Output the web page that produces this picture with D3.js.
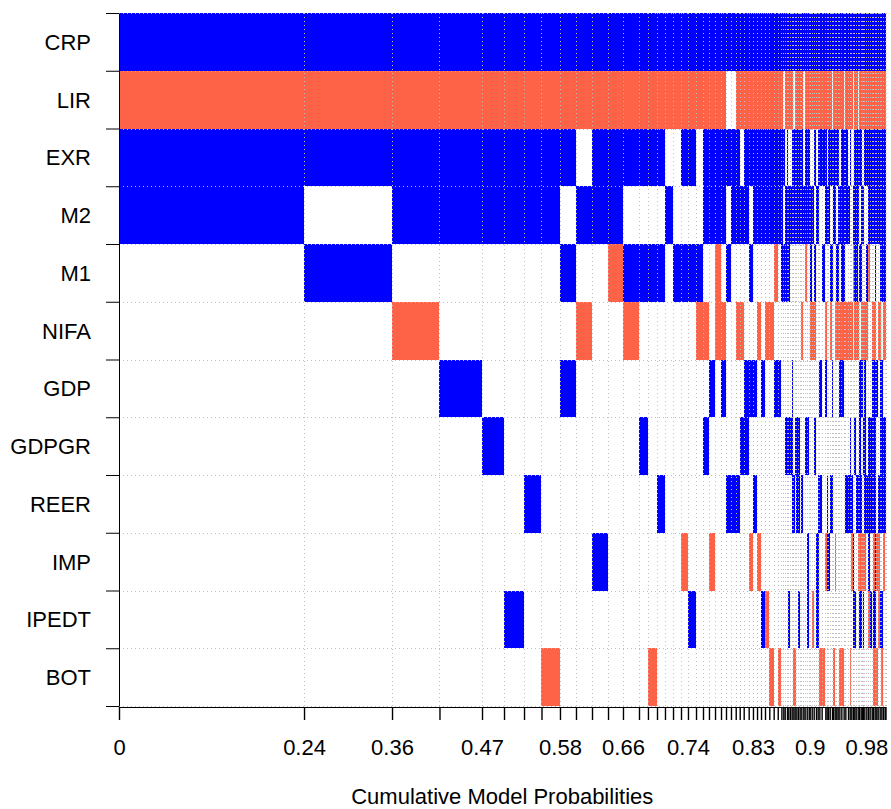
<!DOCTYPE html>
<html><head><meta charset="utf-8">
<script src="https://cdn.jsdelivr.net/npm/d3@7"></script>
<style>
body{margin:0;background:#fff}
text{font-family:"Liberation Sans",Arial,Helvetica,sans-serif}
</style>
</head><body>
<svg id="chart" width="891" height="809"></svg>
<script>
// Variables (rows), top to bottom
const variables = ["CRP","LIR","EXR","M2","M1","NIFA","GDP","GDPGR","REER","IMP","IPEDT","BOT"];

// Cumulative posterior model probability at the right edge of each model column
const cumProb = [
 0.2414,0.3562,0.4181,0.4736,0.5023,0.5284,0.5512,0.5753,0.5962,0.6171,
 0.6380,0.6575,0.6784,0.6901,0.7019,0.7123,0.7228,0.7332,0.7423,0.7528,
 0.7619,0.7697,0.7776,0.7854,0.7919,0.7984,0.8046,0.8098,0.8150,0.8215,
 0.8271,0.8324,0.8376,0.8428,0.8484,0.8541,0.8594,0.8642,0.8667,0.8685,
 0.8715,0.8732,0.8754,0.8776,0.8798,0.8815,0.8837,0.8858,0.8880,0.8902,
 0.8928,0.8945,0.8972,0.8998,0.9011,0.9037,0.9063,0.9093,0.9115,0.9137,
 0.9167,0.9215,0.9232,0.9250,0.9272,0.9302,0.9315,0.9337,0.9358,0.9376,
 0.9398,0.9424,0.9454,0.9476,0.9511,0.9533,0.9554,0.9576,0.9593,0.9611,
 0.9637,0.9654,0.9676,0.9693,0.9706,0.9724,0.9750,0.9772,0.9793,0.9820,
 0.9837,0.9859,0.9880,0.9898,0.9924,0.9946,0.9967,0.9989,1.0000
];

// Inclusion pattern per model: one char per variable (row order above)
// '+' positive coefficient, '-' negative coefficient, '.' not included
const models = [
 "+-++........","+-+.+.......","+-++.-......","+-++..+.....","+-++...+....",
 "+-++......+.","+-++....+...","+-++.......-","+-+.+.+.....","+-.+.-......",
 "+-++.....+..","+-++-.......","+-+.+-......","+-+.+..+....","+-+.+......-",
 "+-+.+...+...","+-.+........","+-..+.......","+-+.+....-..","+-+.+.....+.",
 "+-..+-......","+-++.-.+....","+-++..+..-..","+-++--......","+-++.-+.....",
 "+.+.+...+...","+.++....+...","+-++.-..+...","+-.+.-.+....","+-++..++....",
 "+-+.+.+..-..","+-++..+.+...","+-++.-...-..","+-++..+...+.","+-++.-....-.",
 "+-++.-.....-","+-++-.+.....","+-++..+....-","+-+++.......","+.+.+.......",
 "+-.++..+....","+-+++..+....","+-.++..+..+.","+-.+...+....","+-++..+++...",
 "+.++....+..-","+-++...+...-","+-++...++...","+-++...++.+.","+-++........",
 "+-++.-..+...","+..+........","+-++-..+....","+-++...+.++.","+-++........",
 "+-.++-......","+-.+.-....-.","+-+.+-.+....","+-.+.....++.","+-++....+++.",
 "+-+...+.+..-","+-+.+......-","+-++.-+..-..","+-.+....++..","+-++.....+..",
 "+-+.+-..+...","+.+.+.+.+...","+-++.......-","+-++.-...-..","+-+.+-......",
 "+-+++-......","+-.+.-+....-","+-+++-+....-","+.+++-......","+-++.-..+...",
 "+-.+.-..+...","+-+..-.++..-","+-...-..+-..","+..+-....++.","+-+++-.+..+.",
 "+-+++-..+...","+.++.-..+-..","+-+.+.+++-+.","+-+++-+.+-+.","+-.+.-+..-..",
 "+-.+.-.+.-+.","+-+..-+++-..","+-+.+-..+...","+-++-..+++-.","+-++...++.+.",
 "+-++.-+++...","+-++.-+++-+-","+-+++-+++++-","+-++..+..-.-","+-++.-..+--.",
 "+-+++-+++.+.","+-+++.+++.+-","+-+++-.++-..","+-+++-.++..."
];

// Axis labels shown below the x axis, and after how many models each sits
const tickLabels     = ["0","0.24","0.36","0.47","0.58","0.66","0.74","0.83","0.9","0.98"];
const tickLabelModel = [0, 1, 2, 4, 8, 12, 19, 31, 55, 87];

const xTitle = "Cumulative Model Probabilities";

const signColor = {"+": "#0000FF", "-": "#FF6347"};

// ---------- layout ----------
const plot = {left: 119, right: 885.5, top: 13, bottom: 706};
const fontSize = 22;

const svg = d3.select("#chart");
const bounds = [0].concat(cumProb);

const x = d3.scaleLinear().domain([0, 1]).range([plot.left, plot.right]);
const y = d3.scaleBand().domain(variables).range([plot.top, plot.bottom]).paddingInner(0).paddingOuter(0);
const yIdx = d3.scaleLinear().domain([0, variables.length]).range([plot.top, plot.bottom]);

// cells
const cells = [];
models.forEach((m, i) => {
  const x0 = bounds[i], x1 = bounds[i + 1];
  variables.forEach((v, j) => {
    const s = m[j];
    if (s === "+" || s === "-") cells.push({x0, x1, v, s});
  });
});

svg.append("g").attr("shape-rendering", "crispEdges")
  .selectAll("rect").data(cells).join("rect")
  .attr("x", d => x(d.x0))
  .attr("width", d => Math.max(0.5, x(d.x1) - x(d.x0)))
  .attr("y", d => y(d.v))
  .attr("height", y.bandwidth())
  .attr("fill", d => signColor[d.s]);

// dotted grid
const grid = svg.append("g").attr("stroke", "#BEBEBE").attr("stroke-width", 1)
  .attr("stroke-dasharray", "1,3").attr("fill", "none");
grid.selectAll("line.v").data(bounds).join("line").attr("class", "v")
  .attr("x1", d => Math.round(x(d)) + 0.5).attr("x2", d => Math.round(x(d)) + 0.5)
  .attr("y1", plot.top).attr("y2", plot.bottom);
grid.selectAll("line.h").data(d3.range(variables.length + 1)).join("line").attr("class", "h")
  .attr("y1", d => Math.round(yIdx(d)) + 0.5).attr("y2", d => Math.round(yIdx(d)) + 0.5)
  .attr("x1", plot.left).attr("x2", plot.right);

// x axis
const labelByIndex = new Map(tickLabelModel.map((k, i) => [k, tickLabels[i]]));
const xAxis = d3.axisBottom(x)
  .tickValues(bounds)
  .tickSize(13)
  .tickSizeOuter(0)
  .tickPadding(19)
  .tickFormat((d, i) => labelByIndex.has(i) ? labelByIndex.get(i) : "");
const gx = svg.append("g").attr("transform", `translate(0,${plot.bottom + 1})`).call(xAxis);
gx.selectAll("path").attr("stroke", "#000").attr("stroke-width", 1);
gx.selectAll("line").attr("stroke", "#000").attr("stroke-width", 1.4);
gx.selectAll("text").attr("font-size", fontSize).attr("fill", "#000")
  .attr("font-family", '"Liberation Sans",Arial,sans-serif');

// y axis (ticks at row boundaries)
const yAxis = d3.axisLeft(yIdx)
  .tickValues(d3.range(variables.length + 1))
  .tickSize(13).tickSizeOuter(0).tickFormat("");
const gy = svg.append("g").attr("transform", `translate(${plot.left},0)`).call(yAxis);
gy.selectAll("path,line").attr("stroke", "#000").attr("stroke-width", 1);

// row labels
svg.append("g").selectAll("text").data(variables).join("text")
  .attr("x", 91)
  .attr("y", d => y(d) + y.bandwidth() / 2)
  .attr("dy", "0.36em")
  .attr("text-anchor", "end")
  .attr("font-size", fontSize)
  .attr("fill", "#000")
  .text(d => d);

// x title
svg.append("text")
  .attr("x", (plot.left + plot.right) / 2)
  .attr("y", 804)
  .attr("text-anchor", "middle")
  .attr("font-size", fontSize)
  .attr("fill", "#000")
  .text(xTitle);
</script>
</body></html>
